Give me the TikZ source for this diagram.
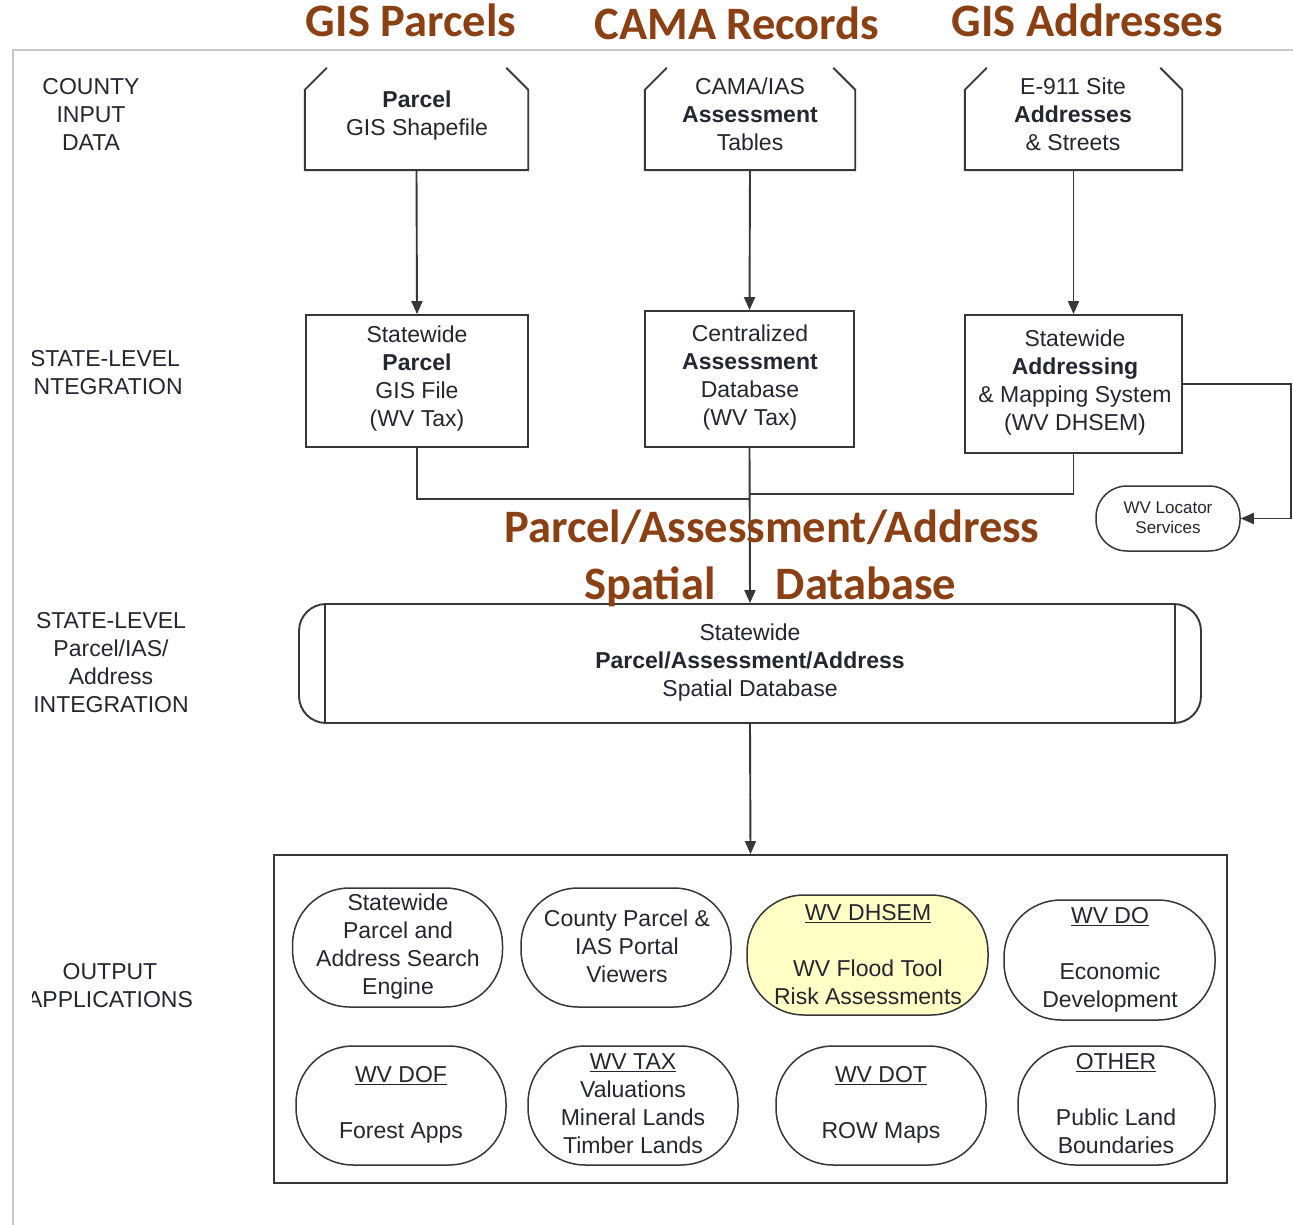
\documentclass[tikz,border=0pt]{standalone}
\usepackage{fontspec}
\setmainfont{Liberation Sans}
\newfontfamily\titlefont{Carlito}
\usetikzlibrary{arrows.meta}

\definecolor{ink}{RGB}{38,38,48}
\definecolor{linegray}{RGB}{55,55,55}
\definecolor{framegray}{RGB}{200,200,200}
\definecolor{titlebrown}{RGB}{139,64,20}
\definecolor{paleyellow}{RGB}{255,255,198}

\begin{document}
\begin{tikzpicture}[x=1pt,y=-1pt,
  txt/.style={font=\fontsize{23}{28}\selectfont, text=ink, align=center, inner sep=0pt},
  smalltxt/.style={font=\fontsize{17}{20}\selectfont, text=ink, align=center, inner sep=0pt},
  shapebox/.style={draw=linegray, line width=1.9pt, inner sep=0pt},
  ghost/.style={inner sep=0pt},
  app/.style={draw=linegray, line width=1.5pt, rounded corners=57pt, inner sep=0pt,
              minimum width=210pt, minimum height=119pt},
  edge/.style={draw=linegray, line width=1.9pt},
  arr/.style={draw=linegray, line width=1.9pt, -{Triangle[length=13pt,width=11pt]}},
  title/.style={font=\titlefont\bfseries\fontsize{46.5}{50}\selectfont, text=titlebrown,
                anchor=base, inner sep=0pt}
]
\useasboundingbox (0,0) rectangle (1293,1225);
\fill[white] (0,0) rectangle (1293,1225);

% page frame
\draw[framegray, line width=2.5pt] (13,1225) -- (13,50) -- (1293,50);

% headings
\node[title] (h1) at (411,37) {GIS Parcels};
\node[title] (h2) at (737,40) {CAMA Records};
\node[title] (h3) at (1087,37) {GIS Addresses};

% row labels
\begin{scope}
  \clip (32.5,0) rectangle (300,1225);
  \node[txt] (l1) at (91,114.5) {COUNTY\\INPUT\\DATA};
  \node[txt] (l2) at (105,372.5) {STATE-LEVEL\\INTEGRATION};
  \node[txt] (l3) at (111,662.5) {STATE-LEVEL\\Parcel/IAS/\\Address\\INTEGRATION};
  \node[txt] (l4) at (110,985.5) {OUTPUT\\APPLICATIONS};
\end{scope}

% county input sources (open-topped boxes with cut corners)
\node[ghost, minimum width=223pt, minimum height=102pt] (p1) at (416.5,119) {};
\node[ghost, minimum width=210pt, minimum height=102pt] (p2) at (750,119) {};
\node[ghost, minimum width=217pt, minimum height=102pt] (p3) at (1073.5,119) {};
\foreach \n in {p1,p2,p3}{
  \draw[edge] ([xshift=22pt]\n.north west) -- ([yshift=-22pt]\n.north west)
    -- (\n.south west) -- (\n.south east) -- ([yshift=-22pt]\n.north east)
    -- ([xshift=-22pt]\n.north east);
}
\node[txt] (p1t) at (417,115.5) {\textbf{Parcel}\\GIS Shapefile};
\node[txt] (p2t) at (750,114.5) {CAMA/IAS\\\textbf{Assessment}\\Tables};
\node[txt] (p3t) at (1073,114.5) {E-911 Site\\\textbf{Addresses}\\\& Streets};

% state-level integration boxes
\node[shapebox, minimum width=222pt, minimum height=132pt] (a) at (417,381) {};
\node[shapebox, minimum width=209pt, minimum height=136pt] (b) at (749.5,379) {};
\node[shapebox, minimum width=217pt, minimum height=138pt] (c) at (1073.5,384) {};
\node[txt] (at) at (417,379) {Statewide\\\textbf{Parcel}\\GIS File\\(WV Tax)};
\node[txt] (bt) at (750,377.5) {Centralized\\\textbf{Assessment}\\Database\\(WV Tax)};
\node[txt] (ct) at (1075,383) {Statewide\\\textbf{Addressing}\\\& Mapping System\\(WV DHSEM)};

% locator services
\node[draw=linegray, line width=1.5pt, rounded corners=31pt, inner sep=0pt,
      minimum width=144pt, minimum height=65pt] (loc) at (1168,518.5) {};
\node[smalltxt] (loct) at (1168,518) {WV Locator\\Services};

% statewide spatial database
\node[draw=linegray, line width=1.9pt, rounded corners=27pt, inner sep=0pt,
      minimum width=902pt, minimum height=119pt] (db) at (750,663.5) {};
\draw[edge] ([xshift=27pt]db.north west) -- ([xshift=27pt]db.south west);
\draw[edge] ([xshift=-27pt]db.north east) -- ([xshift=-27pt]db.south east);
\node[txt] (dbt) at (750,663) {Statewide\\\textbf{Parcel/Assessment/Address}\\Spatial Database};

% output applications
\node[shapebox, minimum width=953pt, minimum height=328pt] (out) at (750.5,1019) {};
\node[app] (e1) at (397.5,947.5) {};
\node[app] (e2) at (626,947.5) {};
\node[app, fill=paleyellow, minimum width=241pt, minimum height=120pt] (e3) at (867.5,955) {};
\node[app, minimum width=211pt, minimum height=120pt] (e4) at (1109.5,960) {};
\node[app] (e5) at (401,1105.5) {};
\node[app] (e6) at (633,1105.5) {};
\node[app] (e7) at (881,1105.5) {};
\node[app, minimum width=197pt] (e8) at (1116.5,1105.5) {};
\node[txt] (e1t) at (398,947) {Statewide\\Parcel and\\Address Search\\Engine};
\node[txt] (e2t) at (627,946) {County Parcel \&\\IAS Portal\\Viewers};
\node[txt] (e3t) at (868,955) {\underline{WV DHSEM}\\[28pt]WV Flood Tool\\Risk Assessments};
\node[txt] (e4t) at (1110,960) {\underline{WV DO}\\[28pt]Economic\\Development};
\node[txt] (e5t) at (401,1105) {\underline{WV DOF}\\[28pt]Forest Apps};
\node[txt] (e6t) at (633,1104) {\underline{WV TAX}\\Valuations\\Mineral Lands\\Timber Lands};
\node[txt] (e7t) at (881,1105) {\underline{WV DOT}\\[28pt]ROW Maps};
\node[txt] (e8t) at (1116,1104) {\underline{OTHER}\\[28pt]Public Land\\Boundaries};

% connectors
\coordinate (j1) at (750,499);
\coordinate (j3) at (750,494);
\draw[arr] (p1.south) -- (a.north);
\draw[arr] (p2.south) -- (b.north);
\draw[arr] (p3.south -| c.north) -- (c.north);
\draw[edge] (a.south) |- (j1);
\draw[edge] (c.south) |- (j3);
\draw[arr] (b.south) -- (db.north);
\draw[arr] (c.east) -- ++(108,0) |- (loc.east);
\draw[arr] (db.south) -- (out.north);

% database caption
\node[title] (cap1) at (772,542) {Parcel/Assessment/Address};
\node[title] (cap2) at (650,599) {Spatial};
\node[title] (cap3) at (866,599) {Database};
\end{tikzpicture}
\end{document}
